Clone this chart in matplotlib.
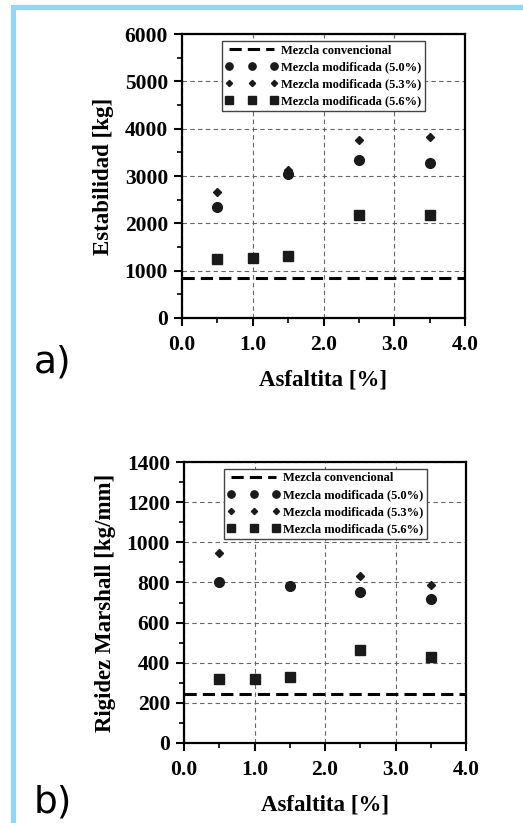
import numpy as np
import matplotlib.pyplot as plt
from matplotlib.patches import Rectangle
from matplotlib.ticker import MultipleLocator, FormatStrFormatter

# Asphaltite content (%) tested
asfaltita = [0.5, 1.0, 1.5, 2.5, 3.5]

# Marshall stability [kg]
est_convencional = 850
est_50 = [2350, np.nan, 3050, 3340, 3270]
est_53 = [2660, np.nan, 3130, 3750, 3820]
est_56 = [1240, 1270, 1310, 2180, 2180]

# Marshall stiffness [kg/mm]
rig_convencional = 245
rig_50 = [802, np.nan, 784, 752, 716]
rig_53 = [948, np.nan, np.nan, 833, 789]
rig_56 = [320, 318, 331, 461, 429]

labels = ["Mezcla convencional",
          "Mezcla modificada (5.0%)",
          "Mezcla modificada (5.3%)",
          "Mezcla modificada (5.6%)"]

serif = ["Liberation Serif", "DejaVu Serif"]
plt.rcParams['font.family'] = serif
plt.rcParams['font.weight'] = 'bold'

fig = plt.figure(figsize=(5.23, 8.23), dpi=100)
fig.patch.set_facecolor('white')

# light blue frame on the left and top edges
W, H = 523, 823
fig.patches.append(Rectangle((11 / W, 0), 5 / W, 1 - 5 / H, transform=fig.transFigure,
                             facecolor='#8fd8f5', edgecolor='none'))
fig.patches.append(Rectangle((11 / W, 1 - 10 / H), 1 - 11 / W, 5 / H, transform=fig.transFigure,
                             facecolor='#8fd8f5', edgecolor='none'))


def draw_panel(ax, conv, s50, s53, s56, ymax, ymajor, ylabel):
    ax.axhline(conv, color='black', linestyle=(0, (4, 2)), linewidth=2.2, label=labels[0], zorder=3)
    ax.plot(asfaltita, s50, linestyle='none', marker='o', markersize=7, color='#1a1a1a',
            label=labels[1], zorder=4)
    ax.plot(asfaltita, s53, linestyle='none', marker='D', markersize=4.2, color='#1a1a1a',
            label=labels[2], zorder=4)
    ax.plot(asfaltita, s56, linestyle='none', marker='s', markersize=7, color='#1a1a1a',
            label=labels[3], zorder=4)

    ax.set_xlim(0, 4)
    ax.set_ylim(0, ymax)
    ax.xaxis.set_major_locator(MultipleLocator(1))
    ax.xaxis.set_minor_locator(MultipleLocator(0.5))
    ax.xaxis.set_major_formatter(FormatStrFormatter('%.1f'))
    ax.yaxis.set_major_locator(MultipleLocator(ymajor))
    ax.yaxis.set_minor_locator(MultipleLocator(ymajor / 2))
    ax.tick_params(which='major', direction='out', length=6, width=1.5, labelsize=15.5, pad=4)
    ax.tick_params(which='minor', direction='out', length=3.5, width=1.2)
    ax.tick_params(axis='x', pad=6)
    for lab in ax.get_xticklabels() + ax.get_yticklabels():
        lab.set_fontweight('bold')
    for sp in ax.spines.values():
        sp.set_linewidth(1.6)

    ax.grid(True, which='major', linestyle=(0, (4, 3)), color='#666666', linewidth=0.8)
    ax.set_axisbelow(True)

    ax.set_xlabel("Asfaltita [%]", fontsize=16.5, fontweight='bold', labelpad=11)
    ax.set_ylabel(ylabel, fontsize=16.5, fontweight='bold', labelpad=8)

    leg = ax.legend(loc='upper left', bbox_to_anchor=(0.141, 0.976), borderaxespad=0,
                    numpoints=3, markerscale=0.75,
                    handlelength=4.2, handletextpad=0.25, borderpad=0.3, labelspacing=0.4,
                    fancybox=False, framealpha=1, edgecolor='#444444',
                    prop={'family': serif, 'weight': 'bold', 'size': 9})
    leg.get_frame().set_linewidth(1.0)
    leg.set_zorder(5)


ax_a = fig.add_axes([182 / W, 1 - 318 / H, 283 / W, 284 / H])
draw_panel(ax_a, est_convencional, est_50, est_53, est_56, 6000, 1000, "Estabilidad [kg]")

ax_b = fig.add_axes([184 / W, 1 - 743 / H, 282 / W, 281 / H])
draw_panel(ax_b, rig_convencional, rig_50, rig_53, rig_56, 1400, 200, "Rigidez Marshall [kg/mm]")

# panel letters
fig.text(34 / W, 1 - 373 / H, "a)", fontsize=27, fontweight='normal', family='DejaVu Sans',
         va='baseline')
fig.text(34 / W, 1 - 813 / H, "b)", fontsize=27, fontweight='normal', family='DejaVu Sans',
         va='baseline')

fig.savefig("out.png", dpi=100)
